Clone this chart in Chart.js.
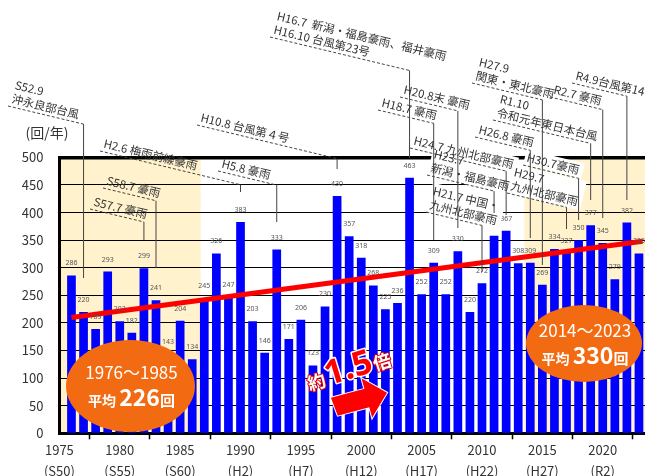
<!DOCTYPE html>
<html><head><meta charset="utf-8">
<script src="https://cdn.jsdelivr.net/npm/chart.js@4/dist/chart.umd.min.js"></script>
<style>html,body{margin:0;padding:0;background:#fff;}canvas{display:block;}</style>
</head><body>
<canvas id="c" width="645" height="476"></canvas>
<script>
// ---- data ----
const years = [1976,1977,1978,1979,1980,1981,1982,1983,1984,1985,
               1986,1987,1988,1989,1990,1991,1992,1993,1994,1995,
               1996,1997,1998,1999,2000,2001,2002,2003,2004,2005,
               2006,2007,2008,2009,2010,2011,2012,2013,2014,2015,
               2016,2017,2018,2019,2020,2021,2022,2023];
const counts = [286,220,189,293,203,182,299,241,143,204,
                134,245,326,247,383,203,146,333,171,206,
                123,230,430,357,318,268,225,236,463,252,
                309,252,330,220,272,358,367,308,309,269,
                334,327,350,377,345,279,382,326];
const trendYears = [1976, 2023.3];
const trendValues = [210, 348];
const xTickYears = [1975,1980,1985,1990,1995,2000,2005,2010,2015,2020];
const eraLabels = ['(S50)','(S55)','(S60)','(H2)','(H7)','(H12)','(H17)','(H22)','(H27)','(R2)'];
const yUnit = '(回/年)';
const shadePeriods = [[1975, 1986.7], [2013.5, 2023.5]];
const periodLabels = ['1976～1985', '2014～2023'];
const periodAverages = [226, 330];
const ratioText = ['約', '1.5', '倍'];
const eventYears = [1977,1982,1983,1990,1993,1998,2004,2006,2008,2012,2011,2010,2014,2015,2017,2018,2019,2020,2022];
const eventTexts = [
  ['S52.9','沖永良部台風'],
  ['S57.7 豪雨'],
  ['S58.7 豪雨'],
  ['H2.6 梅雨前線豪雨'],
  ['H5.8 豪雨'],
  ['H10.8 台風第４号'],
  ['H16.7  新潟・福島豪雨、福井豪雨','H16.10 台風第23号'],
  ['H18.7 豪雨'],
  ['H20.8末 豪雨'],
  ['H24.7 九州北部豪雨'],
  ['H23.7','新潟・福島豪雨'],
  ['H21.7 中国・','九州北部豪雨'],
  ['H26.8 豪雨'],
  ['H27.9','関東・東北豪雨'],
  ['H29.7','九州北部豪雨'],
  ['H30.7豪雨'],
  ['R1.10','令和元年東日本台風'],
  ['R2.7 豪雨'],
  ['R4.9台風第14号']
];
// ---- layout of the callouts (pixel positions, styles) ----
const eventLayout = [
  {x0:8,y0:106,vy:278},{x0:90,y0:209,vy:240},{x0:103,y0:188,vy:268},{x0:100,y0:151,vy:192},
  {x0:218,y0:171,vy:222},{x0:197,y0:125,vy:169},{x0:270,y0:37,vy:158},{x0:378,y0:110,vy:240},
  {x0:400,y0:97,vy:228},{x0:410,y0:148,vy:215,box:true},{x0:427,y0:175,vy:213,box:true},
  {x0:426,y0:212,vy:272,box:true},{x0:475,y0:137,vy:238,box:true},{x0:472,y0:83,vy:265},
  {x0:507,y0:193,vy:229,box:true},{x0:523,y0:165,vy:220,box:true},{x0:493,y0:120,vy:200},
  {x0:550,y0:97,vy:218},{x0:572,y0:83,vy:200}
];
const FONT = "'Noto Sans CJK JP','Noto Sans',sans-serif";
const ANG = 13.5*Math.PI/180, TAN = Math.tan(ANG);

const decor = {
  id:'decor',
  beforeDraw(chart){
    const {ctx, chartArea:a, scales:{x}} = chart;
    ctx.save();
    ctx.fillStyle = '#FFF2CC';
    shadePeriods.forEach(([s,e])=>{
      const p0 = Math.max(x.getPixelForValue(s), a.left), p1 = Math.min(x.getPixelForValue(e), a.right);
      ctx.fillRect(p0, a.top, p1-p0, a.bottom-a.top);
    });
    ctx.restore();
  },
  afterDatasetsDraw(chart){
    const {ctx} = chart;
    ctx.save();
    // value labels
    const meta = chart.getDatasetMeta(1);
    ctx.font = "7px 'Noto Sans'"; ctx.fillStyle = '#555';
    ctx.textAlign = 'center'; ctx.textBaseline = 'middle';
    meta.data.forEach((bar,i)=>ctx.fillText(String(counts[i]), bar.x, bar.y-12));
    // ellipses
    const ells = [{cx:130.5,cy:386,rx:64.5,ry:46},{cx:584,cy:343.5,rx:58,ry:38.5}];
    ells.forEach((e,i)=>{
      ctx.beginPath(); ctx.ellipse(e.cx,e.cy,e.rx,e.ry,0,0,Math.PI*2);
      ctx.fillStyle = '#F26B12'; ctx.fill();
      ctx.fillStyle = '#fff'; ctx.textAlign='center'; ctx.textBaseline='alphabetic';
      ctx.font = "17px "+FONT;
      ctx.fillText(periodLabels[i], e.cx+1, e.cy-7);
      const parts = [["bold 14px "+FONT,'平均 '],["bold 23px "+FONT,String(periodAverages[i])],["bold 15px "+FONT,'回']];
      let w=0; parts.forEach(p=>{ctx.font=p[0]; w+=ctx.measureText(p[1]).width;});
      let px = e.cx+1-w/2; ctx.textAlign='left';
      parts.forEach(p=>{ctx.font=p[0]; ctx.fillText(p[1], px, e.cy+20); px+=ctx.measureText(p[1]).width;});
    });
    // arrow
    ctx.save();
    ctx.translate(333.4,407); ctx.rotate(-15*Math.PI/180);
    ctx.beginPath();
    ctx.moveTo(0,-9.5); ctx.lineTo(34.6,-9.5); ctx.lineTo(34.6,-20.5); ctx.lineTo(55.5,0);
    ctx.lineTo(34.6,20.5); ctx.lineTo(34.6,9.5); ctx.lineTo(2,9.5); ctx.closePath();
    ctx.fillStyle='#FF0000'; ctx.strokeStyle='#fff'; ctx.lineWidth=2; ctx.lineJoin='miter';
    ctx.stroke(); ctx.fill();
    ctx.restore();
    // ratio text
    ctx.save();
    ctx.translate(310,391); ctx.rotate(-17*Math.PI/180);
    ctx.textAlign='left'; ctx.textBaseline='alphabetic'; ctx.lineJoin='round';
    const rp = [["bold 18px "+FONT, ratioText[0], '#fff', '#E00000', 2],
                ["bold 34px 'Noto Sans'", ratioText[1], '#FF0000', '#fff', 3],
                ["bold 18px "+FONT, ratioText[2], '#fff', '#E00000', 2]];
    let tx=0;
    rp.forEach(p=>{ctx.font=p[0]; ctx.strokeStyle=p[3]; ctx.lineWidth=p[4]; ctx.strokeText(p[1],tx,0);
      ctx.fillStyle=p[2]; ctx.fillText(p[1],tx,0); tx+=ctx.measureText(p[1]).width+1;});
    ctx.restore();
    ctx.restore();
  },
  afterDraw(chart){
    const {ctx, scales:{x}} = chart;
    ctx.save();
    ctx.font = "11.5px "+FONT;
    const LG = 14;
    eventYears.forEach((yr,i)=>{
      const L = eventLayout[i], lines = eventTexts[i];
      if (L.box){
        ctx.save(); ctx.translate(L.x0,L.y0); ctx.rotate(ANG);
        let w=0; lines.forEach(t=>w=Math.max(w,ctx.measureText(t).width));
        ctx.fillStyle='#fff'; ctx.fillRect(0,-lines.length*LG-2,w+6,lines.length*LG+2);
        ctx.restore();
      }
    });
    eventYears.forEach((yr,i)=>{
      const L = eventLayout[i], lines = eventTexts[i];
      const xe = x.getPixelForValue(yr), ye = L.y0 + (xe-L.x0)*TAN;
      ctx.strokeStyle='#444'; ctx.lineWidth=1;
      ctx.setLineDash([]);
      ctx.beginPath(); ctx.moveTo(xe,ye); ctx.lineTo(xe,L.vy); ctx.stroke();
      ctx.setLineDash([3,2]);
      ctx.beginPath(); ctx.moveTo(L.x0,L.y0); ctx.lineTo(xe,ye); ctx.stroke();
      ctx.setLineDash([]);
      ctx.save(); ctx.translate(L.x0,L.y0); ctx.rotate(ANG);
      ctx.fillStyle='#333'; ctx.textAlign='left'; ctx.textBaseline='alphabetic';
      lines.forEach((t,k)=>ctx.fillText(t, 2, -4-(lines.length-1-k)*LG));
      ctx.restore();
    });
    // unit label
    ctx.font = "14px "+FONT; ctx.fillStyle='#333'; ctx.textAlign='center'; ctx.textBaseline='middle';
    ctx.fillText(yUnit, 47, 133);
    ctx.restore();
  }
};

new Chart(document.getElementById('c'), {
  data: {
    datasets: [
      {type:'line', order:0, data: trendYears.map((v,i)=>({x:v,y:trendValues[i]})),
       borderColor:'#FF0000', borderWidth:5, pointRadius:0, fill:false, tension:0},
      {type:'bar', order:1, data: years.map((v,i)=>({x:v,y:counts[i]})),
       backgroundColor:'#0000FF', barPercentage:0.72, categoryPercentage:1.0}
    ]
  },
  options: {
    responsive:false, animation:false,
    layout:{padding:{top:157.4,left:0,right:0,bottom:0}},
    plugins:{legend:{display:false}, tooltip:{enabled:false}},
    scales:{
      x:{type:'linear', min:1975, max:2023.5, offset:false,
         afterBuildTicks(s){ s.ticks = xTickYears.map(v=>({value:v})); },
         afterFit(s){ s.height = 42.7; },
         grid:{drawOnChartArea:false, drawTicks:true, tickLength:6, color:'#000', tickWidth:1.5},
         border:{display:true, color:'#000', width:3},
         ticks:{autoSkip:false, maxRotation:0, padding:0, color:'#333',
           font:{family:FONT, size:13, lineHeight:1.65},
           callback(v){ const i = xTickYears.indexOf(v); return i<0 ? '' : [String(v), eraLabels[i]]; }}
      },
      y:{min:0, max:500,
         afterFit(s){ s.width = 59.4; },
         grid:{color:'#000', lineWidth:(c)=> c.tick && c.tick.value===500 ? 3.5 : 1, drawTicks:false},
         border:{display:true, color:'#000', width:3},
         ticks:{stepSize:50, padding:16, color:'#333', font:{family:FONT, size:13}}
      }
    }
  },
  plugins:[decor]
});
</script>
</body></html>
